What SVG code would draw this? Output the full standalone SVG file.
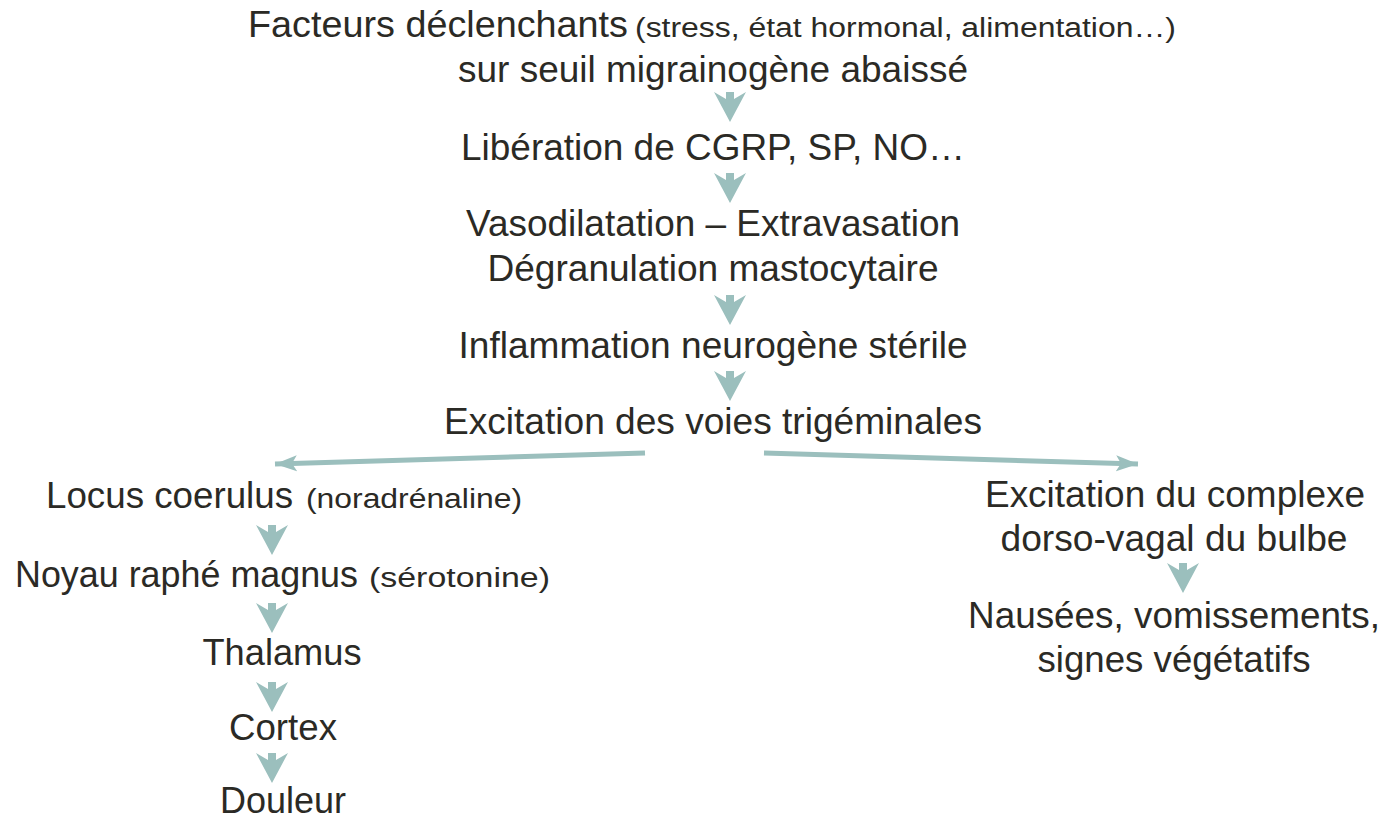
<svg xmlns="http://www.w3.org/2000/svg" width="1385" height="819" viewBox="0 0 1385 819">
<defs>
<style>
text{font-family:"Liberation Sans",Arial,sans-serif;fill:#2b2a25;text-anchor:middle;font-size:36px}
.l{text-anchor:start}
.s{font-size:27px;text-anchor:start}
.dn{fill:#9bbfbd}
.ln{stroke:#9bbfbd;stroke-width:5;fill:none}
</style>
<path id="dn" d="M-16,0 L-4,7 L-4,0 L4,0 L4,7 L16,0 L0,30 Z"/>
<marker id="ah" markerUnits="userSpaceOnUse" markerWidth="30" markerHeight="30" refX="22" refY="10" orient="auto" viewBox="0 0 30 20">
<path d="M0,2 L22,10 L0,18 L5,10 Z" fill="#9bbfbd"/>
</marker>
</defs>
<rect width="1385" height="819" fill="#ffffff"/>
<g id="connectors">
<path class="ln" d="M645,453 L275,464" marker-end="url(#ah)"/>
<path class="ln" d="M764,453 L1138,464" marker-end="url(#ah)"/>
<use href="#dn" class="dn" x="730" y="92"/>
<use href="#dn" class="dn" x="730" y="173"/>
<use href="#dn" class="dn" x="730" y="295"/>
<use href="#dn" class="dn" x="730" y="371"/>
<use href="#dn" class="dn" x="272" y="525"/>
<use href="#dn" class="dn" x="272" y="603"/>
<use href="#dn" class="dn" x="272" y="682"/>
<use href="#dn" class="dn" x="272" y="753"/>
<use href="#dn" class="dn" x="1183" y="563"/>
</g>
<g id="n1"><text class="l" x="248" y="37" textLength="380" lengthAdjust="spacingAndGlyphs">Facteurs déclenchants</text>
<text class="s" x="635" y="37" textLength="541" lengthAdjust="spacingAndGlyphs">(stress, état hormonal, alimentation…)</text>
<text x="713" y="82" textLength="510" lengthAdjust="spacingAndGlyphs">sur seuil migrainogène abaissé</text></g>
<g id="n2"><text x="713" y="160" textLength="504" lengthAdjust="spacingAndGlyphs">Libération de CGRP, SP, NO…</text></g>
<g id="n3"><text x="713" y="236" textLength="494" lengthAdjust="spacingAndGlyphs">Vasodilatation – Extravasation</text>
<text x="713" y="281" textLength="451" lengthAdjust="spacingAndGlyphs">Dégranulation mastocytaire</text></g>
<g id="n4"><text x="713" y="358" textLength="509" lengthAdjust="spacingAndGlyphs">Inflammation neurogène stérile</text></g>
<g id="n5"><text x="713" y="434" textLength="538" lengthAdjust="spacingAndGlyphs">Excitation des voies trigéminales</text></g>
<g id="n6"><text class="l" x="46" y="508" textLength="247" lengthAdjust="spacingAndGlyphs">Locus coerulus</text>
<text class="s" x="306" y="508" textLength="216" lengthAdjust="spacingAndGlyphs">(noradrénaline)</text></g>
<g id="n7"><text class="l" x="15" y="587" textLength="343" lengthAdjust="spacingAndGlyphs">Noyau raphé magnus</text>
<text class="s" x="369" y="587" textLength="181" lengthAdjust="spacingAndGlyphs">(sérotonine)</text></g>
<g id="n8"><text x="282" y="665" textLength="159" lengthAdjust="spacingAndGlyphs">Thalamus</text></g>
<g id="n9"><text x="283" y="740" textLength="108" lengthAdjust="spacingAndGlyphs">Cortex</text></g>
<g id="n10"><text x="283" y="813" textLength="126" lengthAdjust="spacingAndGlyphs">Douleur</text></g>
<g id="n11"><text x="1175" y="507" textLength="380" lengthAdjust="spacingAndGlyphs">Excitation du complexe</text>
<text x="1174" y="551" textLength="347" lengthAdjust="spacingAndGlyphs">dorso-vagal du bulbe</text></g>
<g id="n12"><text x="1174" y="628" textLength="412" lengthAdjust="spacingAndGlyphs">Nausées, vomissements,</text>
<text x="1174" y="672" textLength="273" lengthAdjust="spacingAndGlyphs">signes végétatifs</text></g>
</svg>
